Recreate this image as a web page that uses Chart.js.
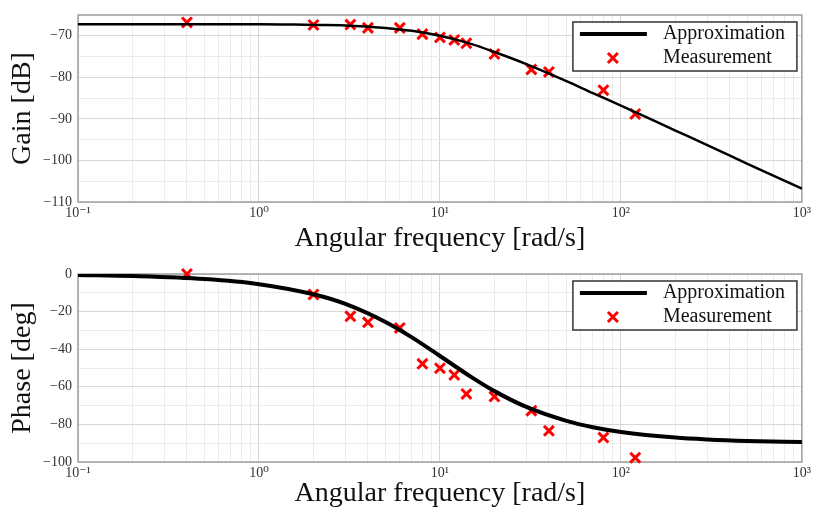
<!DOCTYPE html>
<html>
<head>
<meta charset="utf-8">
<script src="https://cdn.jsdelivr.net/npm/chart.js@4"></script>
<style>
  body { margin: 0; background: #fff; }
  canvas { position: absolute; left: 0; }
  #gainChart { top: 0; }
  #phaseChart { top: 254px; }
</style>
</head>
<body>
<canvas id="gainChart" width="814" height="254"></canvas>
<canvas id="phaseChart" width="814" height="254"></canvas>
<script>
  // measured points
  const measFreq = [0.4, 2, 3.2, 4, 6, 8, 10, 12, 14, 20, 32, 40, 80, 120];
  const measGain = [-66.8, -67.4, -67.3, -68.1, -68.1, -69.6, -70.4, -71.0, -71.8, -74.4, -78.1, -78.7, -83.1, -88.8];
  const measPhase = [0, -10.9, -22.5, -25.7, -28.7, -47.8, -50.1, -53.7, -63.8, -65.2, -72.7, -83.4, -87.0, -97.7];

  // approximation curve
  const approxFreq = [0.1, 0.2, 0.5, 1, 2, 3, 5, 7, 10, 15, 20, 30, 50, 70, 100, 200, 300, 500, 1000];
  const approxGain = [-67.2, -67.2, -67.2, -67.2, -67.4, -67.5, -68.1, -68.8, -70.0, -72.0, -73.9, -76.8, -80.9, -83.8, -86.8, -92.8, -96.3, -100.8, -106.8];
  const approxPhase = [-0.5, -1.1, -2.7, -5.4, -10.8, -15.9, -25.5, -33.7, -43.6, -55.0, -62.3, -70.7, -78.1, -81.5, -84.0, -87.0, -88.0, -88.8, -89.4];

  // tick labels
  const decades = [0.1, 1, 10, 100, 1000];
  const decadeLabels = ['10\u207B\u00B9', '10\u2070', '10\u00B9', '10\u00B2', '10\u00B3'];
  const gainTicks = [-110, -100, -90, -80, -70];
  const phaseTicks = [-100, -80, -60, -40, -20, 0];

  Chart.defaults.font.family = '"Liberation Serif", "DejaVu Serif", serif';

  const gridFreqs = [];
  for (let i = 0; i < decades.length - 1; i++) {
    for (let k = 1; k < 10; k++) gridFreqs.push(k * decades[i]);
  }
  gridFreqs.push(1000);

  function minusLabel(v) {
    return v < 0 ? '\u2212' + Math.abs(v) : String(v);
  }

  const frame = {
    id: 'frame',
    beforeDatasetsDraw(chart) {
      const a = chart.chartArea, ctx = chart.ctx;
      ctx.save();
      ctx.strokeStyle = '#a0a0a0';
      ctx.lineWidth = 1.5;
      ctx.strokeRect(a.left, a.top, a.right - a.left, a.bottom - a.top);
      ctx.restore();
    },
    afterDraw(chart) {
      const a = chart.chartArea, ctx = chart.ctx;
      const w = 224, h = 49;
      const x = a.right - 5 - w, y = a.top + 7;
      ctx.save();
      ctx.fillStyle = '#fff';
      ctx.fillRect(x, y, w, h);
      ctx.strokeStyle = '#333';
      ctx.lineWidth = 1.5;
      ctx.strokeRect(x, y, w, h);
      ctx.strokeStyle = '#000';
      ctx.lineWidth = 4;
      ctx.beginPath();
      ctx.moveTo(x + 7, y + 12);
      ctx.lineTo(x + 74, y + 12);
      ctx.stroke();
      ctx.strokeStyle = 'red';
      ctx.lineWidth = 3;
      ctx.beginPath();
      ctx.moveTo(x + 35, y + 31); ctx.lineTo(x + 45, y + 41);
      ctx.moveTo(x + 45, y + 31); ctx.lineTo(x + 35, y + 41);
      ctx.stroke();
      ctx.fillStyle = '#111';
      ctx.font = '20px "Liberation Serif", serif';
      ctx.textBaseline = 'middle';
      ctx.fillText('Approximation', x + 90, y + 12);
      ctx.fillText('Measurement', x + 90, y + 36);
      ctx.restore();
    }
  };

  function makeChart(id, approxY, measY, yOpts) {
    new Chart(id, {
      type: 'line',
      data: {
        datasets: [{
          label: 'Approximation',
          data: approxFreq.map((f, i) => ({ x: f, y: approxY[i] })),
          borderColor: '#000',
          borderWidth: yOpts.lineWidth,
          pointRadius: 0,
          cubicInterpolationMode: 'monotone',
          fill: false
        }, {
          label: 'Measurement',
          data: measFreq.map((f, i) => ({ x: f, y: measY[i] })),
          showLine: false,
          pointStyle: 'crossRot',
          pointRadius: 7,
          pointBorderWidth: 3,
          borderColor: 'red',
          backgroundColor: 'red',
          clip: false
        }]
      },
      options: {
        responsive: false,
        animation: false,
        events: [],
        layout: { padding: { top: yOpts.top, right: 12, left: 0, bottom: 0 } },
        plugins: { legend: { display: false }, tooltip: { enabled: false } },
        scales: {
          x: {
            type: 'logarithmic',
            min: 0.1,
            max: 1000,
            afterBuildTicks: function (s) {
              s.ticks = gridFreqs.map(v => ({ value: v, major: decades.indexOf(v) >= 0 }));
            },
            afterFit: function (s) { s.height = yOpts.xHeight; },
            ticks: {
              autoSkip: false,
              maxRotation: 0,
              padding: 3,
              color: '#333',
              font: { size: 14 },
              callback: function (v) {
                const i = decades.indexOf(v);
                return i < 0 ? '' : decadeLabels[i];
              }
            },
            grid: {
              drawTicks: false,
              color: ctx => (ctx.tick && ctx.tick.major) ? '#d6d6d6' : '#ececec'
            },
            border: { display: false },
            title: {
              display: true,
              text: 'Angular frequency [rad/s]',
              color: '#111',
              font: { size: 28, lineHeight: 1 },
              padding: { top: 0, bottom: yOpts.titleBottom }
            }
          },
          y: {
            min: yOpts.min,
            max: yOpts.max,
            afterFit: function (s) { s.width = 78; },
            ticks: {
              stepSize: yOpts.step,
              autoSkip: false,
              padding: 6,
              color: '#333',
              font: { size: 14 },
              callback: v => yOpts.labels.indexOf(v) >= 0 ? minusLabel(v) : ''
            },
            grid: {
              drawTicks: false,
              color: ctx => (ctx.tick && yOpts.labels.indexOf(ctx.tick.value) >= 0) ? '#d6d6d6' : '#ececec'
            },
            border: { display: false },
            title: {
              display: true,
              text: yOpts.title,
              color: '#111',
              font: { size: 28, lineHeight: 1 },
              padding: { top: 9, bottom: 0 }
            }
          }
        }
      },
      plugins: [frame]
    });
  }

  makeChart('gainChart', approxGain, measGain, {
    min: -110, max: -65, step: 5, labels: gainTicks, title: 'Gain [dB]',
    top: 15, xHeight: 52, titleBottom: 1.5, lineWidth: 2.5
  });

  makeChart('phaseChart', approxPhase, measPhase, {
    min: -100, max: 0, step: 10, labels: phaseTicks, title: 'Phase [deg]',
    top: 20, xHeight: 46, titleBottom: 0, lineWidth: 4
  });
</script>
</body>
</html>
